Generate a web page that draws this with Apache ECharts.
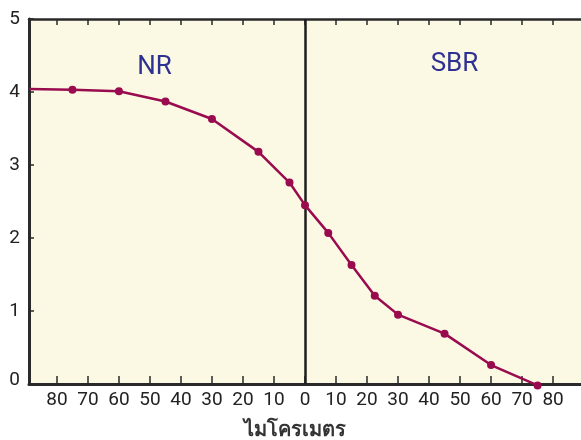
<!DOCTYPE html>
<html>
<head>
<meta charset="utf-8">
<script src="https://cdn.jsdelivr.net/npm/echarts@6/dist/echarts.min.js"></script>
<style>html,body{margin:0;padding:0;background:#fff}#c{width:581px;height:440px}</style>
</head>
<body>
<div id="c"></div>
<script>
// Data
const xTicks = [-80,-70,-60,-50,-40,-30,-20,-10,0,10,20,30,40,50,60,70,80];
const nrX = [-89, -75, -60, -45, -30, -15, -5, 0];
const nrY = [4.04, 4.03, 4.01, 3.87, 3.63, 3.18, 2.76, 2.45];
const sbrX = [7.5, 15, 22.5, 30, 45, 60, 75];
const sbrY = [2.07, 1.63, 1.21, 0.95, 0.69, 0.26, -0.02];
const regionLabels = ['NR', 'SBR'];
const regionPos = [[-48.5, 4.34], [48.2, 4.37]];
const xTitle = 'ไมโครเมตร';

const pts = [];
nrX.forEach((x, i) => pts.push(i === 0 ? {value: [x, nrY[i]], symbol: 'none'} : {value: [x, nrY[i]]}));
sbrX.forEach((x, i) => pts.push({value: [x, sbrY[i]]}));

const axisColor = '#2a2a2a';
const font = 'Roboto, "Liberation Sans", sans-serif';

const chart = echarts.init(document.getElementById('c'), null, {renderer: 'canvas'});
chart.setOption({
  animation: false,
  backgroundColor: '#ffffff',
  grid: {left: 29, right: 0, top: 19, bottom: 56, show: true, backgroundColor: '#fbf9e3', borderWidth: 0,
         containLabel: false, outerBoundsMode: 'none'},
  xAxis: [{
    type: 'value', min: -89, max: 89, position: 'bottom',
    axisLine: {show: true, onZero: false, lineStyle: {color: axisColor, width: 3}},
    axisTick: {show: true, inside: true, length: 8, customValues: xTicks, lineStyle: {color: axisColor, width: 1.5}},
    axisLabel: {customValues: xTicks, formatter: v => String(Math.abs(v)), fontSize: 19, color: '#222', margin: 7, fontFamily: font},
    splitLine: {show: false},
    name: xTitle, nameLocation: 'middle', nameGap: 36,
    nameTextStyle: {fontSize: 20, color: '#333', fontWeight: 'bold', padding: [0, 20, 0, 0],
                    fontFamily: '"Noto Sans", "DejaVu Sans", sans-serif'}
  }, {
    type: 'value', min: -89, max: 89, position: 'top',
    axisLine: {show: true, onZero: false, lineStyle: {color: axisColor, width: 2.5}},
    axisTick: {show: true, inside: true, length: 6, customValues: xTicks, lineStyle: {color: axisColor, width: 1.5}},
    axisLabel: {show: false},
    splitLine: {show: false}
  }],
  yAxis: {
    type: 'value', min: 0, max: 5, interval: 1,
    axisLine: {show: true, onZero: false, lineStyle: {color: axisColor, width: 3}},
    axisTick: {show: true, inside: true, length: 5, lineStyle: {color: axisColor, width: 1.5}},
    axisLabel: {
      fontSize: 19, color: '#222', margin: 9, fontFamily: font,
      formatter: v => v === 0 ? '{z|0}' : String(v),
      rich: {z: {fontSize: 19, color: '#222', fontFamily: font, padding: [0, 0, 8, 0]}}
    },
    splitLine: {show: false}
  },
  series: [{
    type: 'line',
    data: pts,
    clip: false,
    symbol: 'circle', symbolSize: 8,
    itemStyle: {color: '#990a4e'},
    lineStyle: {color: '#990a4e', width: 2.5},
    z: 5,
    markLine: {
      silent: true, symbol: 'none', label: {show: false},
      lineStyle: {color: '#1e1e1e', width: 2.5, type: 'solid'},
      data: [{xAxis: 0}],
      z: 3
    },
    markPoint: {
      symbol: 'circle', symbolSize: 0,
      label: {show: true, color: '#2e3192', fontSize: 26, fontFamily: font, formatter: p => p.name, position: 'inside'},
      data: regionLabels.map((n, i) => ({name: n, coord: regionPos[i]}))
    }
  }]
});
</script>
</body>
</html>
